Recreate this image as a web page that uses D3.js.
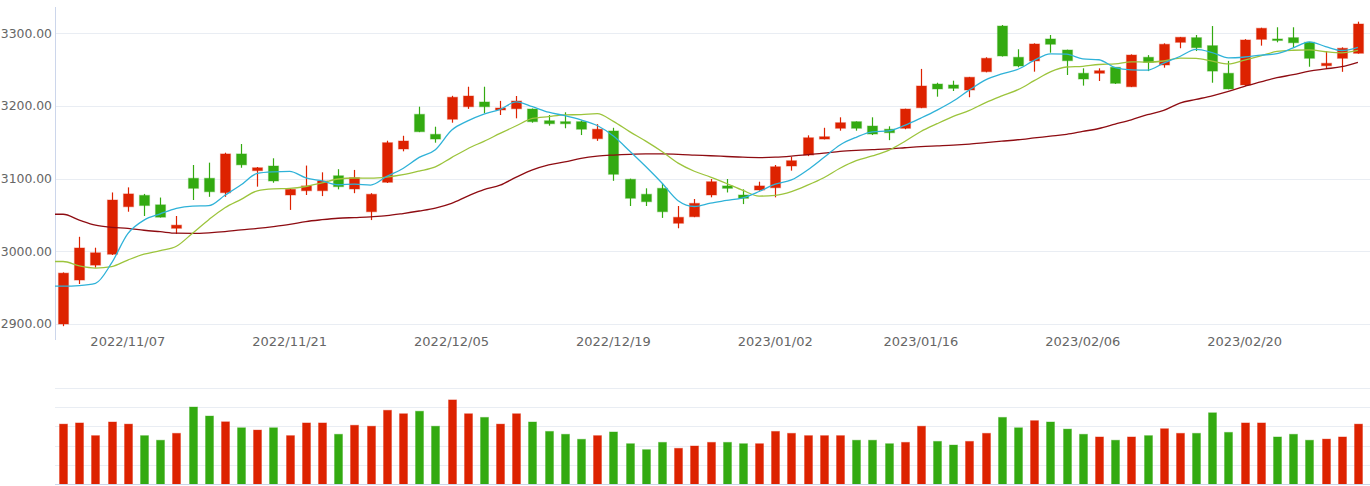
<!DOCTYPE html>
<html><head><meta charset="utf-8">
<script src="https://cdn.jsdelivr.net/npm/d3@7/dist/d3.min.js"></script>
<style>html,body{margin:0;padding:0;background:#fff;}svg{display:block;}</style>
</head><body><svg id="c" width="1370" height="486"></svg>
<script>
const dates = ["2022-11-01","2022-11-02","2022-11-03","2022-11-04","2022-11-07","2022-11-08","2022-11-09","2022-11-10","2022-11-11",
"2022-11-14","2022-11-15","2022-11-16","2022-11-17","2022-11-18","2022-11-21","2022-11-22","2022-11-23","2022-11-24","2022-11-25",
"2022-11-28","2022-11-29","2022-11-30","2022-12-01","2022-12-02","2022-12-05","2022-12-06","2022-12-07","2022-12-08","2022-12-09",
"2022-12-12","2022-12-13","2022-12-14","2022-12-15","2022-12-16","2022-12-19","2022-12-20","2022-12-21","2022-12-22","2022-12-23",
"2022-12-26","2022-12-27","2022-12-28","2022-12-29","2022-12-30","2023-01-03","2023-01-04","2023-01-05","2023-01-06",
"2023-01-09","2023-01-10","2023-01-11","2023-01-12","2023-01-13","2023-01-16","2023-01-17","2023-01-18","2023-01-19","2023-01-20",
"2023-01-30","2023-01-31","2023-02-01","2023-02-02","2023-02-03","2023-02-06","2023-02-07","2023-02-08","2023-02-09","2023-02-10",
"2023-02-13","2023-02-14","2023-02-15","2023-02-16","2023-02-17","2023-02-20","2023-02-21","2023-02-22","2023-02-23","2023-02-24",
"2023-02-27","2023-02-28","2023-03-01"];

const open = [2900,2960.5,2981,2996,3061.4,3077,3064,3031.7,3100.5,3100.5,3080.7,3134,3111,3117.4,3077.5,3083.4,3083.4,3104,3085.8,
3054.5,3095,3140.8,3188.5,3161,3181.7,3199,3205.5,3194.5,3196.2,3195.8,3179.7,3178.4,3178.4,3155,3165.6,3099.1,3078.5,3086.7,3038.6,
3047.6,3077.5,3090,3077.5,3084.4,3087.5,3117.4,3132.5,3154.5,3169.3,3178.4,3172.4,3168,3169.3,3197.6,3230.2,3228.9,3222,3247.2,
3310,3267,3262,3292.2,3277,3245,3245,3253.2,3226.5,3267,3256.4,3287.6,3294,3283,3245,3228.9,3291.7,3292.2,3294,3287.6,3255.4,3265.6,3272.5];
const high = [2971,3020,3005,3081,3088,3079,3074,3048.6,3118.8,3122,3135.7,3147.7,3116,3128,3086,3118,3108.7,3113,3112,
3080,3152.2,3159,3199,3171.5,3214,3226.5,3226.5,3207,3213.7,3196.5,3187.6,3191.3,3180,3175,3170,3100,3086.7,3093.6,3062.4,
3072,3099.5,3099.5,3085.3,3095.8,3118.8,3130,3159.6,3170,3184.4,3178.8,3184.4,3172,3196.3,3251,3232,3234.8,3240,3267,
3311.4,3278,3286.2,3297.7,3277.5,3251.8,3251.8,3253.5,3271,3270,3286.2,3295,3297.7,3310,3262,3292,3307.7,3308.3,3308.3,3288,3275.6,3280.7,3316];
const low = [2897,2955,2977.5,2995,3054.5,3048.6,3046.5,3023.8,3070.6,3075,3075,3115,3089,3094.4,3057,3077.5,3076,3085.3,3080,
3043,3094,3137.6,3164,3149.5,3177,3196,3190,3187.6,3183,3177,3172.9,3169.3,3160,3152,3097,3062.4,3062.4,3046,3031.7,
3047,3074.3,3081,3065,3083.4,3074.3,3111,3131,3154,3166,3166,3160,3153,3168,3197,3212.8,3220.6,3212,3246.3,
3268,3253.2,3247.2,3273.3,3242.6,3228,3234.4,3230.2,3226,3248,3252.7,3279.4,3275.6,3232,3223,3227.5,3283,3287.6,3280.2,3254,3250.9,3247,3272];
const close = [2970,3004.6,2998,3070.6,3079,3063,3047,3036,3086.7,3082,3134,3119,3115,3096.8,3085.3,3090,3096.8,3089,3101.3,
3078.5,3149.5,3151.8,3164.6,3154.5,3212,3213.7,3199,3197.2,3206.8,3178.4,3175.6,3175.6,3168,3168,3106,3073,3068.3,3054.5,3046.8,
3066,3095.8,3086.7,3073,3090,3116.4,3124.7,3156.3,3157.7,3177,3169.3,3161.4,3163.2,3195.8,3227.5,3223.4,3224.3,3239.5,3265.6,
3268.8,3255,3285.3,3284.9,3262.3,3237.1,3248.5,3231.2,3270.1,3260,3284.9,3294.5,3280.2,3248,3223.4,3290.8,3306.9,3291,3287,3265.6,3258.7,3279.4,3312.8];

const volume = [312,318,252,323,312,252,228,264,401,354,324,293,281,293,252,318,318,259,306,301,384,366,379,301,438,366,347,312,366,323,
274,259,233,252,271,210,179,217,186,198,217,217,210,210,274,264,252,252,252,228,228,210,217,301,222,203,222,264,347,293,
330,323,286,259,245,228,245,252,288,264,264,371,269,318,318,245,259,228,234,245,312];

const ma5 = [2952.2,2952.9,2955.9,2984,3024.3,3042.9,3051.5,3059.1,3062.3,3062.9,3077.1,3091.5,3107.3,3109.4,3110.0,3101.2,3096.8,3091.6,3092.5,
3091.2,3103.1,3114.0,3129.2,3139.9,3166.6,3179.4,3188.8,3195.2,3205.7,3199.0,3191.4,3186.7,3180.9,3173.1,3158.6,3138.1,3116.7,3094.0,3069.7,
3061.7,3066.3,3070.0,3073.7,3082.3,3092.4,3098.2,3112.0,3129.0,3146.4,3156.9,3164.3,3165.7,3173.3,3183.4,3194.3,3206.8,3222.1,3235.9,
3244.2,3250.5,3262.7,3271.8,3271.3,3264.9,3263.6,3252.8,3249.8,3249.4,3258.9,3268.1,3277.9,3273.5,3266.2,3267.4,3269.9,3272.0,3279.8,3288.3,3281.8,3276.3,3280.7];
const ma10 = [2986,2980,2977,2979,2988,2996,3001,3007,3025,3043.6,3060.0,3071.5,3083.2,3085.9,3086.5,3089.2,3094.2,3099.5,3100.9,
3100.6,3102.1,3105.4,3110.4,3116.2,3128.9,3141.2,3151.4,3162.2,3172.8,3182.8,3185.4,3187.8,3188.1,3189.4,3178.8,3164.7,3151.7,3137.4,3121.4,
3110.2,3102.2,3093.3,3083.8,3076.0,3077.1,3082.2,3091.0,3101.3,3114.3,3124.7,3131.2,3138.9,3151.2,3164.9,3175.6,3185.6,3193.9,3204.6,
3213.8,3222.4,3234.8,3247.0,3253.6,3254.6,3257.1,3257.8,3260.8,3260.3,3261.9,3265.9,3265.4,3261.7,3257.8,3263.2,3269.0,3275.0,3276.7,3277.2,3274.6,3273.1,3276.4];
const ma30 = [3051,3043,3036,3033,3031.5,3029,3027,3025,3024.8,3025.5,3027,3029.5,3031.5,3034,3037,3041,3043.5,3045.5,3046.5,
3047.5,3049,3052,3055.5,3059.5,3066,3076,3085,3091,3102,3112,3119,3123,3128,3131,3132.5,3133.5,3134,3134,3133.5,
3132.5,3131.5,3130.5,3129.5,3129,3129.5,3131,3133,3135,3137.5,3139,3140,3141,3142.5,3144,3145,3146,3147.5,3149.5,
3151.5,3153.5,3156,3158.5,3161,3165,3169,3175,3181,3188,3194,3204,3209,3214,3220,3227,3233,3239,3243,3248,3251,3254,3260];

const priceTicks = [2900,3000,3100,3200,3300];
const volumeTicks = [0,100,200,300,400,500];
const dateTicks = ["2022/11/07","2022/11/21","2022/12/05","2022/12/19","2023/01/02","2023/01/16","2023/02/06","2023/02/20"];

const UP = "#dd2200", DOWN = "#33aa11";
const svg = d3.select("#c");
const x = d3.scaleBand().domain(dates).range([55, 1366]).paddingInner(0);
const bw = x.bandwidth();
const cx = d => x(d) + bw / 2;
const y = d3.scaleLinear().domain([2900, 3300]).range([324, 33.3]);
const yv = d3.scaleLinear().domain([0, 500]).range([484, 388]);
const font = "DejaVu Sans, sans-serif";

// price grid
svg.append("g").selectAll("line").data(priceTicks).join("line")
  .attr("x1", 55).attr("x2", 1370).attr("y1", d => Math.round(y(d)) + 0.5).attr("y2", d => Math.round(y(d)) + 0.5)
  .attr("stroke", "#e9edf3").attr("stroke-width", 1);
svg.append("g").selectAll("text").data(priceTicks).join("text")
  .attr("x", 52).attr("y", d => y(d)).attr("dy", "0.36em").attr("text-anchor", "end")
  .attr("font-family", font).attr("font-size", 12.4).attr("fill", "#666").text(d => d.toFixed(2));
svg.append("line").attr("x1", 55.5).attr("x2", 55.5).attr("y1", 7).attr("y2", 340).attr("stroke", "#ccd6eb");

// date labels
const tickIdx = dateTicks.map(t => {
  const iso = t.replace(/\//g, "-");
  return dates.findIndex(d => d >= iso);
});
svg.append("g").selectAll("text").data(dateTicks).join("text")
  .attr("x", (d, i) => cx(dates[tickIdx[i]])).attr("y", 346).attr("text-anchor", "middle")
  .attr("font-family", font).attr("font-size", 13).attr("fill", "#666").text(d => d);

// candles
const idx = d3.range(dates.length);
const col = i => close[i] >= open[i] ? UP : DOWN;
const cg = svg.append("g");
cg.selectAll("line").data(idx).join("line")
  .attr("x1", i => Math.round(cx(dates[i])) + 0.5).attr("x2", i => Math.round(cx(dates[i])) + 0.5)
  .attr("y1", i => y(high[i])).attr("y2", i => y(low[i]))
  .attr("stroke", col).attr("stroke-width", 1.2);
const bodyW = 10;
cg.selectAll("rect").data(idx).join("rect")
  .attr("x", i => Math.round(cx(dates[i])) + 0.5 - bodyW / 2)
  .attr("y", i => y(Math.max(open[i], close[i])))
  .attr("width", bodyW)
  .attr("height", i => Math.max(1.5, Math.abs(y(open[i]) - y(close[i]))))
  .attr("fill", col).attr("stroke", col).attr("stroke-opacity", 0.35).attr("stroke-width", 1.2);

// moving averages
function drawMA(vals, color) {
  const pts = [[x.range()[0], y(vals[0])]].concat(vals.map((v, i) => [cx(dates[i]), y(v)]));
  svg.append("path").attr("d", d3.line().curve(d3.curveMonotoneX)(pts))
    .attr("fill", "none").attr("stroke", color).attr("stroke-width", 1.3);
}
drawMA(ma30, "#8e0c12");
drawMA(ma10, "#9cc43c");
drawMA(ma5, "#2fb2d8");

// volume panel
svg.append("g").selectAll("line").data(volumeTicks.slice(1)).join("line")
  .attr("x1", 55).attr("x2", 1370).attr("y1", d => Math.round(yv(d)) + 0.5).attr("y2", d => Math.round(yv(d)) + 0.5)
  .attr("stroke", "#e9edf3");
const volW = 8;
svg.append("g").selectAll("rect").data(idx).join("rect")
  .attr("x", i => Math.round(cx(dates[i])) + 0.5 - volW / 2)
  .attr("y", i => yv(volume[i])).attr("width", volW)
  .attr("height", i => yv(0) - yv(volume[i]))
  .attr("fill", col).attr("stroke", col).attr("stroke-opacity", 0.35).attr("stroke-width", 1);
svg.append("line").attr("x1", 55).attr("x2", 1370).attr("y1", Math.round(yv(0)) + 0.5).attr("y2", Math.round(yv(0)) + 0.5)
  .attr("stroke", "#ccd6eb");
</script></body></html>
